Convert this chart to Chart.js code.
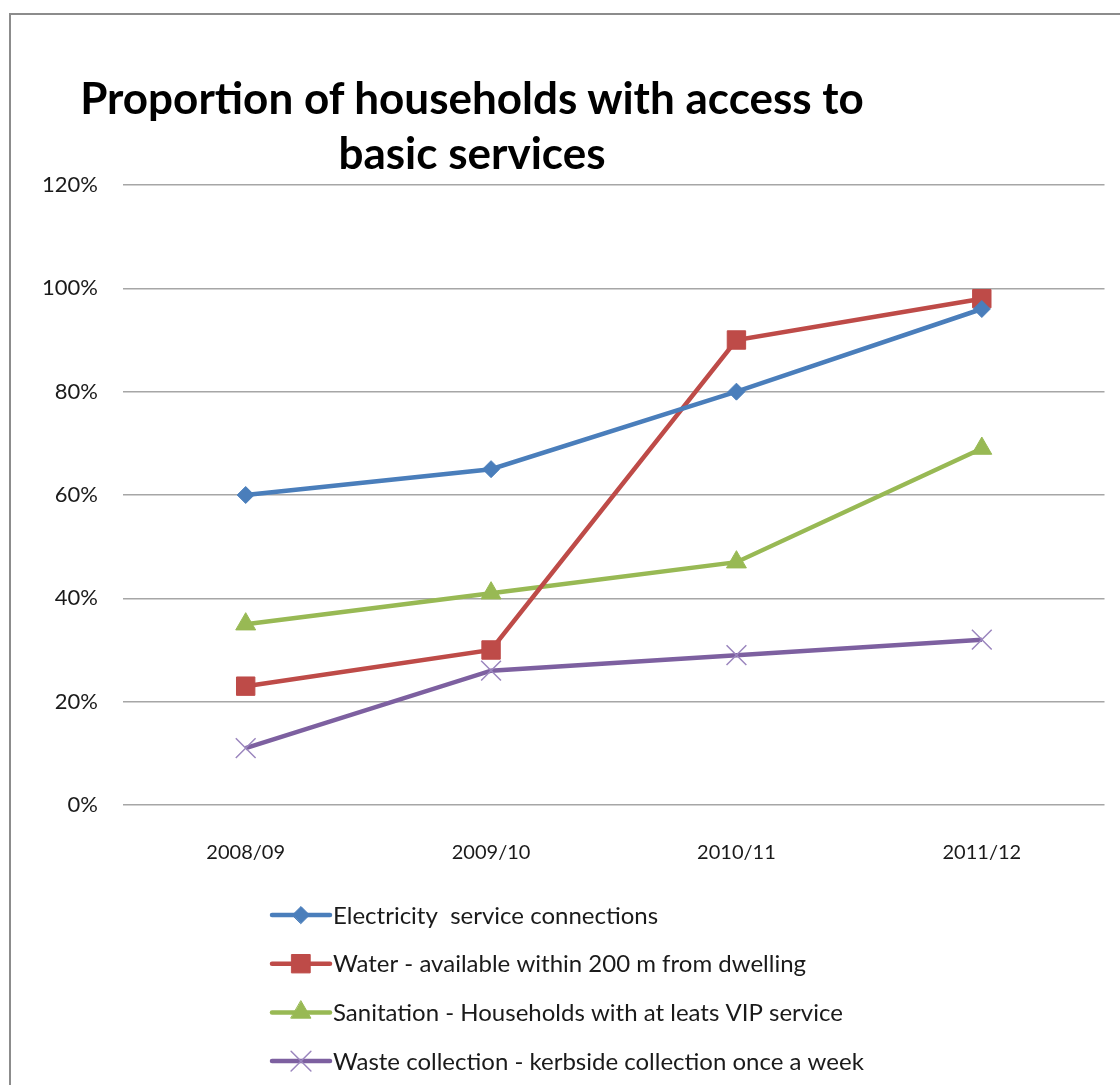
<!DOCTYPE html>
<html>
<head>
<meta charset="utf-8">
<script src="https://cdn.jsdelivr.net/npm/chart.js@4"></script>
<style>
  html, body { margin: 0; padding: 0; background: #fff; overflow: hidden; }
  #wrap { position: relative; width: 1120px; height: 1085px; }
  #frame {
    position: absolute; left: 9px; top: 13px; width: 1200px; height: 1200px;
    border: 2px solid #8c8c8c; box-sizing: border-box;
  }
  #title {
    position: absolute; left: 72px; width: 800px; top: 70px;
    font: bold 44px Lato, "Open Sans", sans-serif; color: #000;
    text-align: center; line-height: 55px;
  }
  canvas { position: absolute; left: 0; top: 0; }
</style>
</head>
<body>
<div id="wrap">
  <div id="frame"></div>
  <canvas id="chart" width="1120" height="1085"></canvas>
  <div id="title">Proportion of households with access to<br>basic services</div>
</div>
<script>
// Data
const categories = ['2008/09', '2009/10', '2010/11', '2011/12'];
const electricity = [60, 65, 80, 96];
const water = [23, 30, 90, 98];
const sanitation = [35, 41, 47, 69];
const waste = [11, 26, 29, 32];
const yTicks = [0, 20, 40, 60, 80, 100, 120];

const FONT = 'Lato, "Open Sans", sans-serif';

// Legend drawn as a vertical list under the axis, like the original
const listLegend = {
  id: 'listLegend',
  afterDraw(chart) {
    const ctx = chart.ctx;
    const x0 = 272, x1 = 330, y0 = 915, step = 48.7;
    chart.data.datasets.forEach((ds, i) => {
      const y = y0 + i * step;
      ctx.save();
      ctx.strokeStyle = ds.borderColor;
      ctx.lineWidth = 4.5;
      ctx.lineCap = 'round';
      ctx.beginPath();
      ctx.moveTo(x0, y);
      ctx.lineTo(x1, y);
      ctx.stroke();
      ctx.fillStyle = ds.pointBackgroundColor;
      ctx.strokeStyle = ds.pointBorderColor;
      ctx.lineWidth = ds.pointBorderWidth;
      Chart.helpers.drawPoint(ctx, {
        pointStyle: ds.pointStyle,
        radius: ds.pointRadius,
        rotation: 0,
        borderWidth: ds.pointBorderWidth
      }, (x0 + x1) / 2, y);
      ctx.fillStyle = '#1a1a1a';
      ctx.font = '24px ' + FONT;
      ctx.textBaseline = 'middle';
      ctx.fillText(ds.label, x1 + 3, y + 1);
      ctx.restore();
    });
  }
};

function series(label, data, color, style, radius, markerFill, markerBorder, markerWidth) {
  return {
    label: label,
    data: data,
    borderColor: color,
    borderWidth: 4.5,
    pointStyle: style,
    pointRadius: radius,
    pointHoverRadius: radius,
    pointBackgroundColor: markerFill,
    pointBorderColor: markerBorder,
    pointBorderWidth: markerWidth,
    tension: 0
  };
}

new Chart(document.getElementById('chart'), {
  type: 'line',
  data: {
    labels: categories,
    datasets: [
      series('Electricity  service connections', electricity, '#4A7EBB', 'rectRot', 8.5, '#4A7EBB', '#4A7EBB', 1),
      series('Water - available within 200 m from dwelling', water, '#BE4B48', 'rect', 13, '#BE4B48', '#BE4B48', 1),
      series('Sanitation - Households with at leats VIP service', sanitation, '#98B954', 'triangle', 11.5, '#98B954', '#98B954', 1),
      series('Waste collection - kerbside collection once a week', waste, '#7D60A0', 'crossRot', 14, '#9B86BE', '#9B86BE', 1.5)
    ]
  },
  options: {
    responsive: false,
    animation: false,
    layout: { padding: { top: 185, right: 15, bottom: 0, left: 0 } },
    plugins: {
      legend: { display: false },
      title: { display: false },
      tooltip: { enabled: false }
    },
    scales: {
      x: {
        offset: true,
        grid: { display: false, drawTicks: false },
        border: { display: false },
        ticks: { color: '#1a1a1a', font: { family: FONT, size: 20 }, padding: 36 },
        afterFit(scale) { scale.height = 280; }
      },
      y: {
        min: 0,
        max: 120,
        afterBuildTicks(scale) { scale.ticks = yTicks.map(v => ({ value: v })); },
        grid: { color: '#a6a6a6', lineWidth: 1.4, drawTicks: false },
        border: { display: false },
        ticks: {
          color: '#1a1a1a',
          font: { family: FONT, size: 22 },
          padding: 25,
          callback: v => v + '%'
        },
        afterFit(scale) { scale.width = 123; }
      }
    }
  },
  plugins: [listLegend]
});
</script>
</body>
</html>
